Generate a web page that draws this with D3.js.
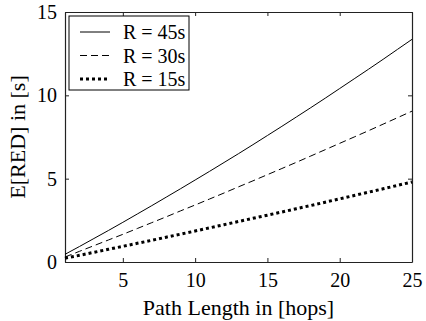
<!DOCTYPE html>
<meta charset="utf-8">
<style>
    html, body {
        margin: 0;
        padding: 0;
        background: #fff;
    }
</style>
<body>
<div id="chart"></div>
<script src="https://cdn.jsdelivr.net/npm/d3@7"></script>
<script>
    // path length in hops
    var hops = [1, 2, 3, 4, 5, 6, 7, 8, 9, 10, 11, 12, 13, 14, 15, 16, 17, 18, 19, 20, 21, 22, 23, 24, 25];

    // E[RED] in seconds
    var red45 = [0.46, 0.93, 1.41, 1.89, 2.38, 2.88, 3.38, 3.89, 4.40, 4.92, 5.44, 5.97, 6.50,
                 7.04, 7.59, 8.14, 8.70, 9.26, 9.83, 10.41, 10.99, 11.57, 12.16, 12.76, 13.36];
    var red30 = [0.30, 0.64, 0.98, 1.32, 1.66, 2.01, 2.36, 2.71, 3.07, 3.42, 3.78, 4.14, 4.51,
                 4.87, 5.24, 5.61, 5.98, 6.36, 6.74, 7.12, 7.50, 7.88, 8.27, 8.66, 9.05];
    var red15 = [0.23, 0.40, 0.58, 0.76, 0.94, 1.12, 1.30, 1.49, 1.67, 1.86, 2.05, 2.24, 2.43,
                 2.62, 2.81, 3.00, 3.20, 3.39, 3.59, 3.79, 3.99, 4.19, 4.39, 4.60, 4.80];

    var seriesNames = ["R = 45s", "R = 30s", "R = 15s"];
    var xTicks = [5, 10, 15, 20, 25];
    var yTicks = [0, 5, 10, 15];

    var series = [
        {name: seriesNames[0], values: red45, width: 1, dash: null},
        {name: seriesNames[1], values: red30, width: 1, dash: "7,4"},
        {name: seriesNames[2], values: red15, width: 3, dash: "3,3"}
    ];

    var serif = "'Liberation Serif'";

    var W = 426, H = 321;
    var margin = {top: 12, right: 14, bottom: 59, left: 65},
        width = W - margin.left - margin.right,
        height = H - margin.top - margin.bottom;

    var x = d3.scaleLinear().domain([1, 25]).range([0, width]);
    var y = d3.scaleLinear().domain([0, 15]).range([height, 0]);

    var svg = d3.select("#chart").append("svg")
        .attr("width", W)
        .attr("height", H);

    var g = svg.append("g")
        .attr("transform", "translate(" + margin.left + "," + margin.top + ")");

    // axes, ticks pointing inward, mirrored on top and right
    var tk = 4;
    function styleAxis(sel) {
        sel.selectAll("text")
            .style("font-family", serif)
            .style("font-size", "20px")
            .style("fill", "#000");
        sel.selectAll("line").attr("stroke", "#222");
        sel.select(".domain").attr("stroke", "#222").attr("stroke-width", 1.2);
    }
    g.append("g")
        .attr("transform", "translate(0," + height + ")")
        .call(d3.axisBottom(x).tickValues(xTicks).tickSizeInner(-tk).tickSizeOuter(0).tickPadding(11))
        .call(styleAxis);
    g.append("g")
        .call(d3.axisTop(x).tickValues(xTicks).tickSizeInner(-tk).tickSizeOuter(0).tickFormat(""))
        .call(styleAxis);
    g.append("g")
        .call(d3.axisLeft(y).tickValues(yTicks).tickSizeInner(-tk).tickSizeOuter(0).tickPadding(8))
        .call(styleAxis);
    g.append("g")
        .attr("transform", "translate(" + width + ",0)")
        .call(d3.axisRight(y).tickValues(yTicks).tickSizeInner(-tk).tickSizeOuter(0).tickFormat(""))
        .call(styleAxis);

    // curves
    var line = d3.line()
        .x(function(d, i) { return x(hops[i]); })
        .y(function(d) { return y(d); });

    g.selectAll(".curve")
        .data(series)
        .enter().append("path")
        .attr("class", "curve")
        .attr("fill", "none")
        .attr("stroke", "#000")
        .attr("stroke-width", function(d) { return d.width; })
        .attr("stroke-dasharray", function(d) { return d.dash; })
        .attr("d", function(d) { return line(d.values); });

    // legend
    var legend = g.append("g").attr("transform", "translate(4,4)");
    legend.append("rect")
        .attr("width", 120)
        .attr("height", 74)
        .attr("fill", "#fff")
        .attr("stroke", "#000")
        .attr("stroke-width", 1);

    var item = legend.selectAll(".item")
        .data(series)
        .enter().append("g")
        .attr("transform", function(d, i) { return "translate(0," + (16 + i * 23.5) + ")"; });
    item.append("line")
        .attr("x1", 11).attr("x2", 41)
        .attr("stroke", "#000")
        .attr("stroke-width", function(d) { return d.width; })
        .attr("stroke-dasharray", function(d) { return d.dash; });
    item.append("text")
        .attr("x", 54)
        .attr("dy", "0.35em")
        .style("font-family", serif)
        .style("font-size", "20px")
        .text(function(d) { return d.name; });

    // axis titles
    svg.append("text")
        .attr("x", margin.left + width / 2)
        .attr("y", 315)
        .attr("text-anchor", "middle")
        .style("font-family", serif)
        .style("font-size", "22px")
        .text("Path Length in [hops]");

    svg.append("text")
        .attr("transform", "translate(25," + (margin.top + height / 2) + ") rotate(-90)")
        .attr("text-anchor", "middle")
        .style("font-family", serif)
        .style("font-size", "22px")
        .text("E[RED] in [s]");
</script>
</body>
